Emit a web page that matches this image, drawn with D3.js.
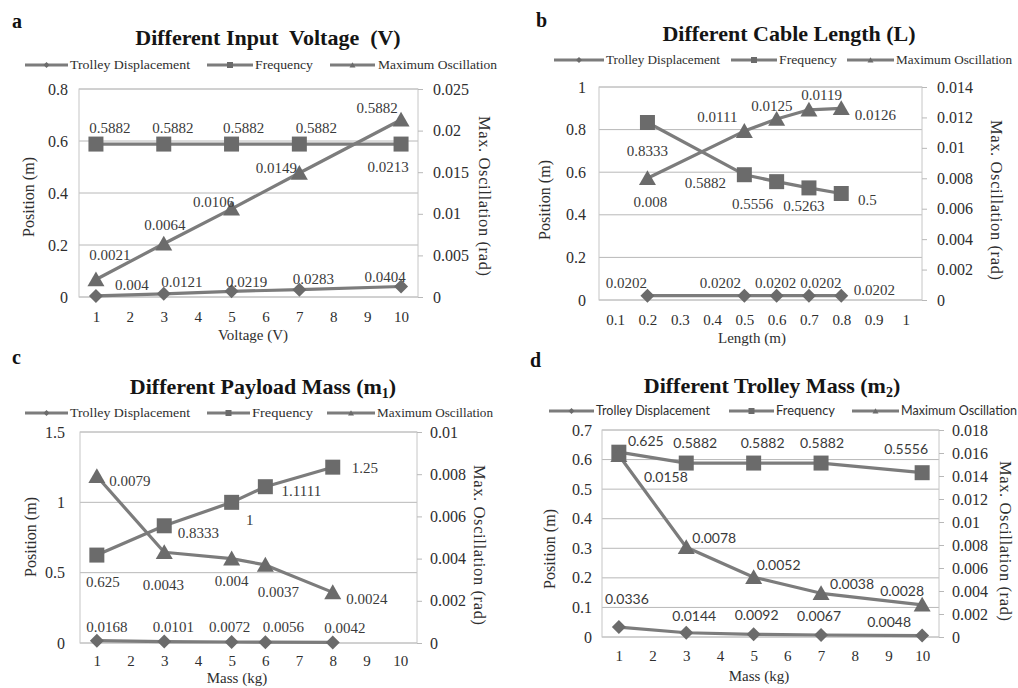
<!DOCTYPE html>
<html>
<head>
<meta charset="utf-8">
<script src="https://cdn.jsdelivr.net/npm/d3@7"></script>
<style>
  body { margin: 0; background: #fff; }
  svg { display: block; }
</style>
</head>
<body>
<svg id="chart" width="1018" height="688"></svg>
<script>
(function (d3) {
  "use strict";

  var seriesNames = ["Trolley Displacement", "Frequency", "Maximum Oscillation"];

  // a - different input voltage
  var voltage = [1, 3, 5, 7, 10];
  var voltDisp = [0.004, 0.0121, 0.0219, 0.0283, 0.0404];
  var voltFreq = [0.5882, 0.5882, 0.5882, 0.5882, 0.5882];
  var voltOsc = [0.0021, 0.0064, 0.0106, 0.0149, 0.0213];
  var voltXTicks = [1, 2, 3, 4, 5, 6, 7, 8, 9, 10];
  var voltLeftTicks = [0, 0.2, 0.4, 0.6, 0.8];
  var voltRightTicks = [0, 0.005, 0.01, 0.015, 0.02, 0.025];

  // b - different cable length
  var cableLength = [0.2, 0.5, 0.6, 0.7, 0.8];
  var cableDisp = [0.0202, 0.0202, 0.0202, 0.0202, 0.0202];
  var cableFreq = [0.8333, 0.5882, 0.5556, 0.5263, 0.5];
  var cableOsc = [0.008, 0.0111, 0.0119, 0.0125, 0.0126];
  var cableXTicks = [0.1, 0.2, 0.3, 0.4, 0.5, 0.6, 0.7, 0.8, 0.9, 1];
  var cableLeftTicks = [0, 0.2, 0.4, 0.6, 0.8, 1];
  var cableRightTicks = [0, 0.002, 0.004, 0.006, 0.008, 0.01, 0.012, 0.014];

  // c - different payload mass
  var payloadMass = [1, 3, 5, 6, 8];
  var payloadDisp = [0.0168, 0.0101, 0.0072, 0.0056, 0.0042];
  var payloadFreq = [0.625, 0.8333, 1, 1.1111, 1.25];
  var payloadOsc = [0.0079, 0.0043, 0.004, 0.0037, 0.0024];
  var payloadXTicks = [1, 2, 3, 4, 5, 6, 7, 8, 9, 10];
  var payloadLeftTicks = [0, 0.5, 1, 1.5];
  var payloadRightTicks = [0, 0.002, 0.004, 0.006, 0.008, 0.01];

  // d - different trolley mass
  var trolleyMass = [1, 3, 5, 7, 10];
  var trolleyDisp = [0.0336, 0.0144, 0.0092, 0.0067, 0.0048];
  var trolleyFreq = [0.625, 0.5882, 0.5882, 0.5882, 0.5556];
  var trolleyOsc = [0.0158, 0.0078, 0.0052, 0.0038, 0.0028];
  var trolleyXTicks = [1, 2, 3, 4, 5, 6, 7, 8, 9, 10];
  var trolleyLeftTicks = [0, 0.1, 0.2, 0.3, 0.4, 0.5, 0.6, 0.7];
  var trolleyRightTicks = [0, 0.002, 0.004, 0.006, 0.008, 0.01, 0.012, 0.014, 0.016, 0.018];

  var panels = [
    { id: "a", title: [["Different Input  Voltage  (V)"]], xTitle: "Voltage (V)",
      x: voltage, series: [voltDisp, voltFreq, voltOsc],
      xTicks: voltXTicks, leftTicks: voltLeftTicks, rightTicks: voltRightTicks },
    { id: "b", title: [["Different Cable Length (L)"]], xTitle: "Length (m)",
      x: cableLength, series: [cableDisp, cableFreq, cableOsc],
      xTicks: cableXTicks, leftTicks: cableLeftTicks, rightTicks: cableRightTicks },
    { id: "c", title: [["Different Payload Mass (m"], ["1", "sub"], [")"]], xTitle: "Mass (kg)",
      x: payloadMass, series: [payloadDisp, payloadFreq, payloadOsc],
      xTicks: payloadXTicks, leftTicks: payloadLeftTicks, rightTicks: payloadRightTicks },
    { id: "d", title: [["Different Trolley Mass (m"], ["2", "sub"], [")"]], xTitle: "Mass (kg)",
      x: trolleyMass, series: [trolleyDisp, trolleyFreq, trolleyOsc],
      xTicks: trolleyXTicks, leftTicks: trolleyLeftTicks, rightTicks: trolleyRightTicks }
  ];

  // layout of each panel (pixel boxes, label nudges)
  var layout = {
    a: { left: 79, right: 418, top: 89, bottom: 297, tag: [12, 28], title: [268, 45], legendY: 65,
         legend: [[25, 68, 70, 120], [207, 253, 255, 58], [330, 375, 378, 119]],
         leftPad: 11, rightPad: 10, bottomPad: 14.4, xTitle: [253, 340], leftTitle: [28, 197], rightTitle: [485, 196],
         labels: [
           [[36, -11], [18, -12], [15, -10], [14, -11], [-16, -10]],
           [[14, -16], [9, -16], [12, -16], [17, -16], [-24, -36]],
           [[14, -25], [1, -19], [-18, -7], [-23, -5], [-13, 47]]
         ] },
    b: { left: 599, right: 922, top: 87, bottom: 300, tag: [536, 27], title: [789, 41], legendY: 60,
         legend: [[554, 604, 606, 114], [731, 777, 779, 58], [847, 894, 896, 116]],
         leftPad: 13, rightPad: 10, bottomPad: 14.4, xTitle: [752, 343], leftTitle: [544, 200], rightTitle: [997, 200],
         labels: [
           [[-21, -13], [-24, -13], [-1, -13], [12, -13], [33, -6]],
           [[0, 28], [-39, 8], [-24, 22], [-5, 18], [26, 6]],
           [[3, 23], [-27, -14], [45, -24], [-37, -4], [34, 6]]
         ] },
    c: { left: 80, right: 417, top: 432, bottom: 643, tag: [12, 364], title: [263, 394], legendY: 413,
         legend: [[25, 68, 70, 120], [207, 250, 252, 61], [327, 375, 377, 116]],
         leftPad: 15, rightPad: 8, bottomPad: 12.4, xTitle: [237, 683], leftTitle: [30, 537], rightTitle: [480, 545],
         labels: [
           [[10, -14], [9, -15], [-2, -15], [18, -15], [12, -15]],
           [[6, 27], [34, 7], [18, 17], [36, 4], [32, 1]],
           [[33, 4], [-1, 32], [0, 22], [13, 27], [34, 6]]
         ] },
    d: { left: 602, right: 939, top: 430, bottom: 637, tag: [530, 367], title: [772, 393], legendY: 411,
         legend: [[549, 594, 596, 114], [729, 774, 776, 59], [852, 899, 901, 116]],
         leftPad: 10, rightPad: 8, bottomPad: 13.4, xTitle: [759, 681], leftTitle: [549, 549], rightTitle: [1006, 541],
         sans: true,
         labels: [
           [[8, -28], [8, -17], [3, -19], [-2, -19], [-33, -13]],
           [[27, -11], [9, -20], [9, -20], [1, -20], [-16, -24]],
           [[47, 22], [28, -9], [25, -12], [31, -9], [-20, -14]]
         ] }
  };

  var serif = "'Liberation Serif','Times New Roman',serif";
  var sans = "Lato,'Liberation Sans',Arial,sans-serif";
  var lineCol = "#7c7c7c", markCol = "#6b6b6b", gridCol = "#b8b8b8", textCol = "#2e2e2e";

  function markerPath(kind, r) {
    if (kind === "diamond") return "M0," + (-r) + "L" + r + ",0L0," + r + "L" + (-r) + ",0Z";
    if (kind === "square") return "M" + (-r) + "," + (-r) + "h" + 2 * r + "v" + 2 * r + "h" + (-2 * r) + "Z";
    return "M0," + (-0.95 * r) + "L" + r + "," + 0.8 * r + "L" + (-r) + "," + 0.8 * r + "Z";
  }
  var kinds = ["diamond", "square", "triangle"];
  var sizes = [7, 7.5, 8.5];

  var svg = d3.select("#chart");

  panels.forEach(function (p) {
    var L = layout[p.id];
    var g = svg.append("g").attr("class", "panel-" + p.id);
    var step = p.xTicks[1] - p.xTicks[0];
    var x = d3.scaleLinear()
      .domain([p.xTicks[0] - step / 2, p.xTicks[p.xTicks.length - 1] + step / 2])
      .range([L.left, L.right]);
    var yL = d3.scaleLinear().domain([0, d3.max(p.leftTicks)]).range([L.bottom, L.top]);
    var yR = d3.scaleLinear().domain([0, d3.max(p.rightTicks)]).range([L.bottom, L.top]);
    var labelFont = L.sans ? sans : serif;

    // panel letter
    g.append("text").attr("x", L.tag[0]).attr("y", L.tag[1])
      .attr("font-family", serif).attr("font-weight", "bold").attr("font-size", 20)
      .attr("fill", "#111").text(p.id);

    // title
    var t = g.append("text").attr("x", L.title[0]).attr("y", L.title[1])
      .attr("text-anchor", "middle").attr("font-family", serif).attr("font-weight", "bold")
      .attr("font-size", 22).attr("fill", "#151515").attr("xml:space", "preserve");
    p.title.forEach(function (part) {
      var ts = t.append("tspan").text(part[0]);
      if (part[1] === "sub") ts.attr("font-size", 14).attr("dy", 4);
      else if (t.selectAll("tspan").size() > 1) ts.attr("dy", -4);
    });

    // legend
    seriesNames.forEach(function (name, k) {
      var it = L.legend[k];
      g.append("line").attr("x1", it[0]).attr("x2", it[1])
        .attr("y1", L.legendY).attr("y2", L.legendY)
        .attr("stroke", lineCol).attr("stroke-width", 3);
      g.append("path").attr("d", markerPath(kinds[k], 3))
        .attr("transform", "translate(" + (it[0] + it[1]) / 2 + "," + L.legendY + ")")
        .attr("fill", markCol);
      g.append("text").attr("x", it[2]).attr("y", L.legendY).attr("dy", "0.33em")
        .attr("font-family", L.sans ? sans : serif).attr("font-size", 12.5)
        .attr("fill", textCol).attr("textLength", it[3]).attr("lengthAdjust", "spacingAndGlyphs")
        .text(name);
    });

    // gridlines and plot frame
    g.append("g").selectAll("line").data(p.leftTicks).enter().append("line")
      .attr("x1", L.left).attr("x2", L.right)
      .attr("y1", function (d) { return yL(d); }).attr("y2", function (d) { return yL(d); })
      .attr("stroke", gridCol).attr("stroke-width", 1);
    g.append("rect").attr("x", L.left).attr("y", L.top)
      .attr("width", L.right - L.left).attr("height", L.bottom - L.top)
      .attr("fill", "none").attr("stroke", "#c6c6c6").attr("stroke-width", 1);

    // axes
    var axL = g.append("g").attr("transform", "translate(" + L.left + ",0)")
      .call(d3.axisLeft(yL).tickValues(p.leftTicks).tickSize(0).tickPadding(L.leftPad)
        .tickFormat(function (d) { return String(d); }));
    var axR = g.append("g").attr("transform", "translate(" + L.right + ",0)")
      .call(d3.axisRight(yR).tickValues(p.rightTicks).tickSizeInner(5).tickSizeOuter(0)
        .tickPadding(L.rightPad).tickFormat(function (d) { return String(d); }));
    var axB = g.append("g").attr("transform", "translate(0," + L.bottom + ")")
      .call(d3.axisBottom(x).tickValues(p.xTicks).tickSize(0).tickPadding(L.bottomPad)
        .tickFormat(function (d) { return String(d); }));
    [axL, axR, axB].forEach(function (ax) {
      ax.select(".domain").remove();
      ax.selectAll("line").attr("stroke", gridCol);
      ax.selectAll("text").attr("font-family", serif).attr("font-size", 16).attr("fill", textCol);
    });
    axB.selectAll("text").attr("font-size", 15);

    // axis titles
    g.append("text").attr("transform", "translate(" + L.leftTitle[0] + "," + L.leftTitle[1] + ") rotate(-90)")
      .attr("text-anchor", "middle").attr("dy", "0.35em").attr("font-family", serif)
      .attr("font-size", 16).attr("fill", textCol)
      .attr("textLength", 80).attr("lengthAdjust", "spacing").text("Position (m)");
    g.append("text").attr("transform", "translate(" + L.rightTitle[0] + "," + L.rightTitle[1] + ") rotate(90)")
      .attr("text-anchor", "middle").attr("dy", "0.35em").attr("font-family", serif)
      .attr("font-size", 16.5).attr("fill", textCol)
      .attr("textLength", 160).attr("lengthAdjust", "spacing").text("Max. Oscillation (rad)");
    g.append("text").attr("x", L.xTitle[0]).attr("y", L.xTitle[1])
      .attr("text-anchor", "middle").attr("font-family", serif)
      .attr("font-size", 15).attr("fill", textCol).text(p.xTitle);

    // series
    var yScales = [yL, yL, yR];
    p.series.forEach(function (vals, k) {
      var ys = yScales[k];
      var line = d3.line()
        .x(function (d, i) { return x(p.x[i]); })
        .y(function (d) { return ys(d); });
      g.append("path").datum(vals).attr("d", line)
        .attr("fill", "none").attr("stroke", lineCol).attr("stroke-width", 3.2)
        .attr("stroke-linejoin", "round");
      g.append("g").selectAll("path").data(vals).enter().append("path")
        .attr("d", markerPath(kinds[k], sizes[k]))
        .attr("transform", function (d, i) { return "translate(" + x(p.x[i]) + "," + ys(d) + ")"; })
        .attr("fill", markCol);
    });

    // data labels
    p.series.forEach(function (vals, k) {
      var ys = yScales[k];
      g.append("g").selectAll("text").data(vals).enter().append("text")
        .attr("x", function (d, i) { return x(p.x[i]) + L.labels[k][i][0]; })
        .attr("y", function (d, i) { return ys(d) + L.labels[k][i][1]; })
        .attr("dy", "0.35em").attr("text-anchor", "middle")
        .attr("font-family", labelFont).attr("font-size", L.sans ? 14 : 15)
        .attr("fill", "#3a3a3a")
        .text(function (d) { return String(d); });
    });
  });
}(d3));
</script>
</body>
</html>
